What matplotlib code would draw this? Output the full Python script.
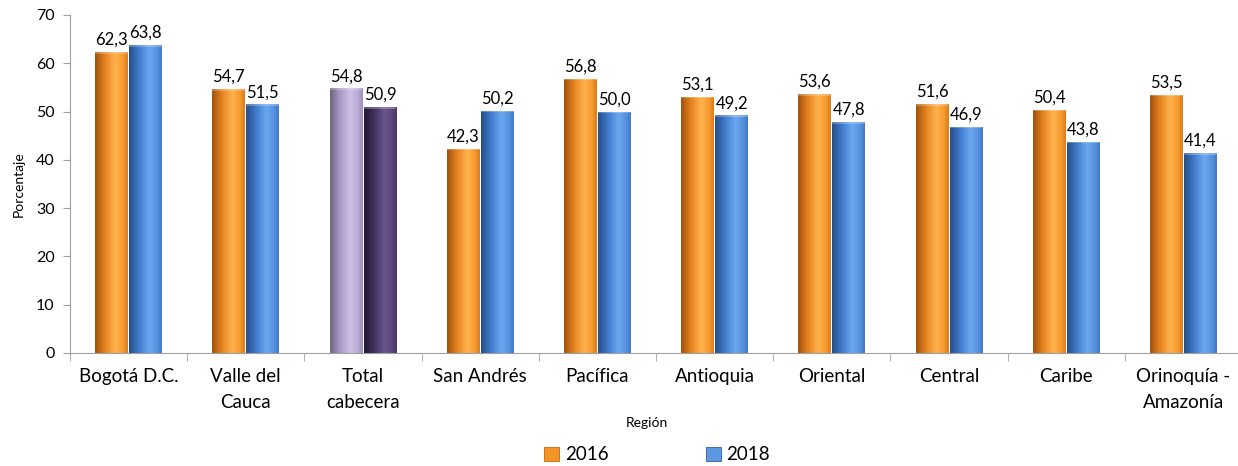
import numpy as np
import matplotlib
matplotlib.use("Agg")
import matplotlib.pyplot as plt
from matplotlib.colors import LinearSegmentedColormap
from matplotlib.patches import Patch

categories = ["Bogotá D.C.", "Valle del\nCauca", "Total\ncabecera", "San Andrés", "Pacífica",
              "Antioquia", "Oriental", "Central", "Caribe", "Orinoquía -\nAmazonía"]
values_2016 = [62.3, 54.7, 54.8, 42.3, 56.8, 53.1, 53.6, 51.6, 50.4, 53.5]
values_2018 = [63.8, 51.5, 50.9, 50.2, 50.0, 49.2, 47.8, 46.9, 43.8, 41.4]
series_labels = ["2016", "2018"]
highlight_index = 2

plt.rcParams['font.family'] = ['Lato', 'DejaVu Sans']

fig = plt.figure(figsize=(12.38, 4.66), dpi=100)
ax = fig.add_axes([70/1238, 113/466, 1172/1238, 338/466])

x = np.arange(len(categories))
w = 0.28
gap = 0.005

orange = ["#9E520C", "#E58220", "#FFB24E", "#F79A2E", "#D97A1C"]
blue = ["#254E86", "#3F7ACB", "#6BA8F0", "#5592DF", "#3F78C4"]
lpurple = ["#6E6380", "#A898C4", "#CDBFE6", "#BBABD6", "#9D8DBA"]
dpurple = ["#221833", "#3E2F5A", "#6A5690", "#594779", "#463764"]

def cmap(cols):
    return LinearSegmentedColormap.from_list("g", list(zip([0, 0.3, 0.62, 0.85, 1.0], cols)))

b1 = ax.bar(x - w/2 - gap, values_2016, w, color=orange[2], zorder=2)
b2 = ax.bar(x + w/2 + gap, values_2018, w, color=blue[2], zorder=2)

grad = np.linspace(0, 1, 256).reshape(1, -1)
for i, (p1, p2) in enumerate(zip(b1, b2)):
    c1 = cmap(lpurple if i == highlight_index else orange)
    c2 = cmap(dpurple if i == highlight_index else blue)
    for p, cm in ((p1, c1), (p2, c2)):
        x0, wd, h = p.get_x(), p.get_width(), p.get_height()
        p.set_facecolor("none")
        im = ax.imshow(grad, extent=[x0, x0 + wd, 0, h], aspect="auto", cmap=cm,
                       zorder=2, interpolation="bicubic")
        im.set_clip_path(p)
        ax.add_patch(plt.Rectangle((x0, h - 0.35), wd, 0.35, color="white", alpha=0.25, zorder=3, lw=0))

for bars, vals in ((b1, values_2016), (b2, values_2018)):
    for p, v in zip(bars, vals):
        ax.annotate(f"{v:.1f}".replace(".", ","), (p.get_x() + p.get_width()/2, v),
                    xytext=(0, 3), textcoords="offset points", ha="center", va="bottom",
                    fontsize=12, color="#000000")

ax.set_xlim(-0.5, len(categories) - 0.5)
ax.set_ylim(0, 70)
ax.set_yticks(range(0, 71, 10))
ax.set_xticks(x)
ax.set_xticklabels(categories, fontsize=13.5, linespacing=1.6)
ax.set_xticks(np.arange(-0.5, len(categories), 1), minor=True)
ax.tick_params(axis="x", which="major", length=0, pad=11)
ax.tick_params(axis="x", which="minor", length=6, color="#A0A0A0", direction="out")
ax.tick_params(axis="y", labelsize=11.5, length=5, color="#A0A0A0", pad=6)
for s in ("top", "right"):
    ax.spines[s].set_visible(False)
for s in ("left", "bottom"):
    ax.spines[s].set_color("#A0A0A0")
ax.set_ylabel("Porcentaje", fontsize=10, labelpad=8)
fig.text(647/1238, 1 - 423/466, "Región", ha="center", va="center", fontsize=10)

handles = [Patch(facecolor="#F39425", edgecolor="#C06A10", lw=0.6),
           Patch(facecolor="#5C97E2", edgecolor="#2F5F9E", lw=0.6)]
fig.legend(handles, series_labels, loc="center", bbox_to_anchor=(657/1238, 1 - 455/466),
           ncol=2, frameon=False, fontsize=13.5, handlelength=0.8, handleheight=0.8,
           handletextpad=0.3, columnspacing=5.2)

fig.savefig("out.png", dpi=100)
